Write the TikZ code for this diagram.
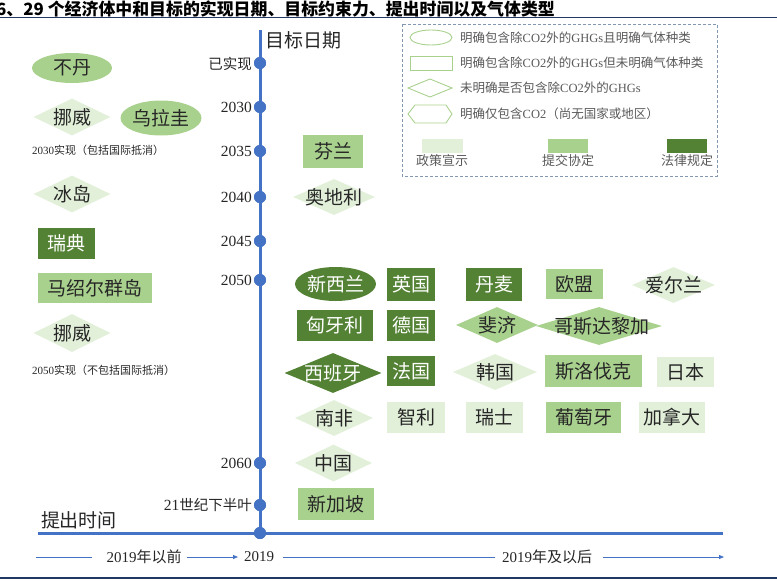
\documentclass[tikz,border=0pt]{standalone}
\usepackage{fontspec}
\setmainfont{Noto Sans CJK SC}
\newfontfamily\dig{Liberation Serif}
\usetikzlibrary{shapes.geometric,arrows.meta}
\definecolor{dg}{HTML}{548235}
\definecolor{mg}{HTML}{A9D18E}
\definecolor{lg}{HTML}{E2F0D9}
\definecolor{tl}{HTML}{4472C4}
\definecolor{navy}{HTML}{1F3864}
\definecolor{txt}{HTML}{262626}
\definecolor{legtxt}{HTML}{595959}
\definecolor{legb}{HTML}{8497B0}
\begin{document}
\begin{tikzpicture}[x=1pt,y=-1pt,
  ctext/.style={font=\fontsize{19}{19}\selectfont, text=txt, inner sep=0},
  wtext/.style={ctext, text=white},
  rbox/.style={rectangle, inner sep=0, font=\fontsize{19}{19}\selectfont, text=txt},
  wbox/.style={rbox, text=white},
  ebox/.style={ellipse, inner sep=0, font=\fontsize{19}{19}\selectfont, text=txt},
  dmd/.style={diamond, inner sep=0},
  dotnode/.style={circle, fill=tl, inner sep=0, minimum size=12},
  yr/.style={anchor=east, inner sep=1, font=\fontsize{14.5}{14.5}\selectfont, text=txt},
  yrd/.style={yr, font=\dig\fontsize{15.5}{15.5}\selectfont},
  legt/.style={anchor=west, inner sep=0, font=\fontsize{12.5}{12.5}\selectfont, text=legtxt},
  legs/.style={inner sep=0, font=\fontsize{13}{13}\selectfont, text=legtxt},
  note/.style={anchor=west, inner sep=0, font=\fontsize{11}{11}\selectfont, text=txt},
  axt/.style={inner sep=0, font=\fontsize{15}{15}\selectfont, text=txt},
  thin/.style={tl, line width=0.8},
  thinarr/.style={thin, -{Triangle[length=5pt,width=4pt]}},
  thick/.style={tl, line width=3},
  navyline/.style={navy, line width=1.5}
]
\useasboundingbox (0,0) rectangle (777,581);

% title
\node[anchor=west, inner sep=0, font=\bfseries\fontsize{16.9}{16.9}\selectfont, text=black] (title) at (-4,8.5) {6、29 个经济体中和目标的实现日期、目标约束力、提出时间以及气体类型};
\coordinate (tl0) at (0,17.5); \coordinate (tl1) at (777,17.5);
\draw[navyline] (tl0) -- (tl1);
\coordinate (bl0) at (0,578); \coordinate (bl1) at (777,578);
\draw[navyline] (bl0) -- (bl1);

% legend
\draw[legb, line width=0.8, dash pattern=on 3pt off 2pt] (402,24) rectangle (717,176);
\draw[mg, line width=0.9] (431,37.5) ellipse [x radius=21, y radius=7.5];
\draw[mg, line width=0.9] (410,56) rectangle (452,70);
\draw[mg, line width=0.9] (408,88) -- (430,79) -- (452,88) -- (430,97) -- cycle;
\draw[mg, line width=0.9] (408,114) -- (415,105) -- (446,105) -- (452,114) -- (446,123) -- (415,123) -- cycle;
\node[legt] (lg1) at (460,37.5) {明确包含除{\dig CO2}外的{\dig GHGs}且明确气体种类};
\node[legt] (lg2) at (460,63) {明确包含除{\dig CO2}外的{\dig GHGs}但未明确气体种类};
\node[legt] (lg3) at (460,88) {未明确是否包含除{\dig CO2}外的{\dig GHGs}};
\node[legt] (lg4) at (460,114) {明确仅包含{\dig CO2}（尚无国家或地区）};
\fill[lg] (422,139) rectangle (463,153);
\fill[mg] (548,139) rectangle (588,153);
\fill[dg] (667,139) rectangle (707,153);
\node[legs] (ls1) at (442,161) {政策宣示};
\node[legs] (ls2) at (568,161) {提交协定};
\node[legs] (ls3) at (687,161) {法律规定};

% timeline
\coordinate (ttop) at (260,30);
\coordinate (hl) at (38,533);
\coordinate (hr) at (723,533);
\node[dotnode] (d0) at (260,63) {};
\node[dotnode] (d1) at (260,107) {};
\node[dotnode] (d2) at (260,151) {};
\node[dotnode] (d3) at (260,197) {};
\node[dotnode] (d4) at (260,241) {};
\node[dotnode] (d5) at (260,280) {};
\node[dotnode] (d6) at (260,463) {};
\node[dotnode] (d7) at (260,505) {};
\node[dotnode] (d8) at (260,533) {};
\draw[thick] (ttop) -- (d8.center);
\draw[thick] (hl) -- (hr);
\foreach \n in {d0,d1,d2,d3,d4,d5,d6,d7,d8}{\fill[tl] (\n) circle [radius=6];}
\node[anchor=west, inner sep=0, font=\fontsize{19}{19}\selectfont, text=txt] (mbrq) at (265,40) {目标日期};
\node[yr] (y0) at (253,64) {已实现};
\node[yrd] (y1) at (253,107) {2030};
\node[yrd] (y2) at (253,151) {2035};
\node[yrd] (y3) at (253,197) {2040};
\node[yrd] (y4) at (253,241) {2045};
\node[yrd] (y5) at (253,280) {2050};
\node[yrd] (y6) at (253,463) {2060};
\node[yr] (y7) at (253,505) {{\dig\fontsize{15.5}{15.5}\selectfont 21}世纪下半叶};

% left column
\node[ebox, fill=mg, minimum width=80, minimum height=30] (budan) at (72,68) {不丹};
\node[dmd, fill=lg, minimum width=77, minimum height=37] (nw1) at (72,117) {};
\node[ctext] (nw1t) at (nw1) {挪威};
\node[ebox, fill=mg, minimum width=81, minimum height=35] (wlg) at (161,118) {乌拉圭};
\node[note] (n2030) at (32,150) {{\dig 2030}实现（包括国际抵消）};
\node[dmd, fill=lg, minimum width=77, minimum height=37] (bd) at (72,194) {};
\node[ctext] (bdt) at (bd) {冰岛};
\node[wbox, fill=dg, minimum width=57, minimum height=31] (rd) at (66.5,243.5) {瑞典};
\node[rbox, fill=mg, minimum width=114, minimum height=30] (mse) at (95,288) {马绍尔群岛};
\node[dmd, fill=lg, minimum width=77, minimum height=38] (nw2) at (72,333) {};
\node[ctext] (nw2t) at (nw2) {挪威};
\node[note] (n2050) at (32,370) {{\dig 2050}实现（不包括国际抵消）};

% middle / right
\node[rbox, fill=mg, minimum width=60, minimum height=33] (fl) at (333,151) {芬兰};
\node[dmd, fill=lg, minimum width=82, minimum height=36] (adl) at (334,197) {};
\node[ctext] (adlt) at (adl) {奥地利};

\node[ebox, fill=dg, text=white, minimum width=81, minimum height=34] (xxl) at (335.5,284) {新西兰};
\node[wbox, fill=dg, minimum width=48, minimum height=33] (yg) at (411,284) {英国};
\node[wbox, fill=dg, minimum width=56, minimum height=33] (dm) at (494,284) {丹麦};
\node[rbox, fill=mg, minimum width=57, minimum height=30] (om) at (574.5,284) {欧盟};
\node[dmd, fill=lg, minimum width=83, minimum height=36] (ael) at (673.5,285) {};
\node[ctext] (aelt) at (ael) {爱尔兰};

\node[wbox, fill=dg, minimum width=76, minimum height=31] (xyl) at (335,325) {匈牙利};
\node[wbox, fill=dg, minimum width=48, minimum height=31] (dg1) at (411,325) {德国};
\node[dmd, fill=mg, minimum width=126, minimum height=38] (gsdlj) at (599,326) {};
\node[ctext] (gsdljt) at (602,326) {哥斯达黎加};
\node[dmd, fill=mg, minimum width=82, minimum height=36] (fj) at (497,325) {};
\node[ctext] (fjt) at (fj) {斐济};

\node[dmd, fill=dg, minimum width=97, minimum height=40] (xby) at (333,373) {};
\node[wtext] (xbyt) at (xby) {西班牙};
\node[wbox, fill=dg, minimum width=48, minimum height=30] (fg) at (411,371) {法国};
\node[dmd, fill=lg, minimum width=84, minimum height=36] (hg) at (495,372) {};
\node[ctext] (hgt) at (hg) {韩国};
\node[rbox, fill=mg, minimum width=97, minimum height=32] (slfk) at (593.5,371) {斯洛伐克};
\node[rbox, fill=lg, minimum width=57, minimum height=30] (rb) at (685.5,372) {日本};

\node[dmd, fill=lg, minimum width=78, minimum height=36] (nf) at (334,418) {};
\node[ctext] (nft) at (nf) {南非};
\node[rbox, fill=lg, minimum width=58, minimum height=31] (zl) at (416,417.5) {智利};
\node[rbox, fill=lg, minimum width=57, minimum height=31] (rs) at (494.5,417.5) {瑞士};
\node[rbox, fill=mg, minimum width=75, minimum height=31] (pty) at (583.5,417.5) {葡萄牙};
\node[rbox, fill=lg, minimum width=66, minimum height=31] (jnd) at (672,417.5) {加拿大};

\node[dmd, fill=lg, minimum width=77, minimum height=37] (zg) at (333.5,463) {};
\node[ctext] (zgt) at (zg) {中国};
\node[rbox, fill=mg, minimum width=76, minimum height=32] (xjp) at (336,504) {新加坡};

% bottom axis
\node[inner sep=0, font=\fontsize{19}{19}\selectfont, text=txt] (tcsj) at (79,520) {提出时间};
\node[axt] (t1) at (144,557) {{\dig 2019}年以前};
\node[axt] (t2) at (259,557) {\dig 2019};
\node[axt] (t3) at (547,557) {{\dig 2019}年及以后};
\coordinate (a0) at (36,557); \coordinate (a1) at (92,557);
\coordinate (a2) at (187,557); \coordinate (a3) at (238,557);
\coordinate (a4) at (283,557); \coordinate (a5) at (495,557);
\coordinate (a6) at (603,557); \coordinate (a7) at (724,557);
\draw[thin] (a0) -- (a1);
\draw[thinarr] (a2) -- (a3);
\draw[thin] (a4) -- (a5);
\draw[thinarr] (a6) -- (a7);
\end{tikzpicture}
\end{document}
